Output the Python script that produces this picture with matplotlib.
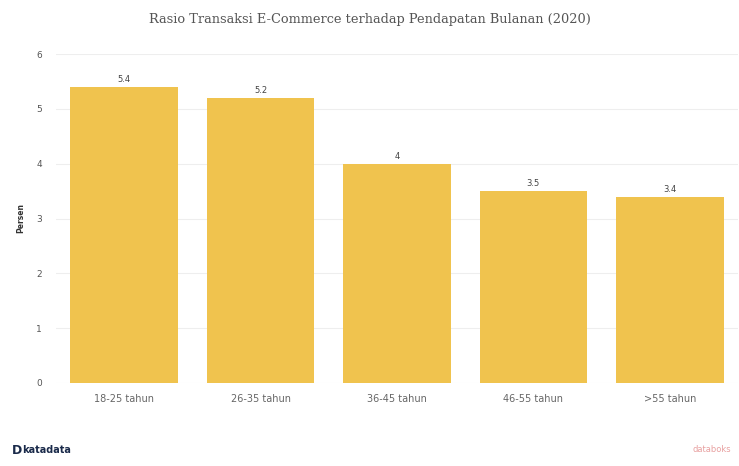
import matplotlib
matplotlib.use("Agg")
import matplotlib.pyplot as plt

categories = ["18-25 tahun", "26-35 tahun", "36-45 tahun", "46-55 tahun", ">55 tahun"]
values = [5.4, 5.2, 4, 3.5, 3.4]
value_labels = ["5.4", "5.2", "4", "3.5", "3.4"]
yticks = [0, 1, 2, 3, 4, 5, 6]

fig = plt.figure(figsize=(7.39, 4.66), dpi=100)
ax = fig.add_axes([56 / 739, 1 - 383 / 466, 682 / 739, 329 / 466])

bars = ax.bar(range(len(categories)), values, width=0.79, color="#F0C34E", zorder=2)
for b, lab in zip(bars, value_labels):
    ax.text(b.get_x() + b.get_width() / 2, b.get_height() + 0.05, lab,
            ha="center", va="bottom", fontsize=6, color="#444444")

ax.set_xlim(-0.5, len(categories) - 0.5)
ax.set_ylim(0, 6)
ax.set_yticks(yticks)
ax.set_yticklabels([str(t) for t in yticks], fontsize=6.5, color="#555555")
ax.set_xticks(range(len(categories)))
ax.set_xticklabels(categories, fontsize=7, color="#666666")
ax.tick_params(length=0, pad=10, axis="y")
ax.tick_params(length=0, pad=8, axis="x")
ax.grid(axis="y", color="#eeeeee", linewidth=0.8, zorder=0)
for s in ax.spines.values():
    s.set_visible(False)
ax.set_ylabel("Persen", fontsize=5.5, fontweight="bold", color="#333333", labelpad=8)

fig.text(0.5, 1 - 19 / 466, "Rasio Transaksi E-Commerce terhadap Pendapatan Bulanan (2020)",
         ha="center", va="center", fontsize=9.3, family="DejaVu Serif", color="#555555")
fig.text(12 / 739, 1 - 450 / 466, "D", fontsize=9, fontweight="bold", color="#1a2a4a", va="center")
fig.text(22 / 739, 1 - 450 / 466, "katadata", fontsize=7, fontweight="bold", color="#1a2a4a", va="center")
fig.text(1 - 8 / 739, 1 - 450 / 466, "databoks", fontsize=6, color="#e8a0a0", va="center", ha="right")

fig.savefig("out.png", dpi=100)
